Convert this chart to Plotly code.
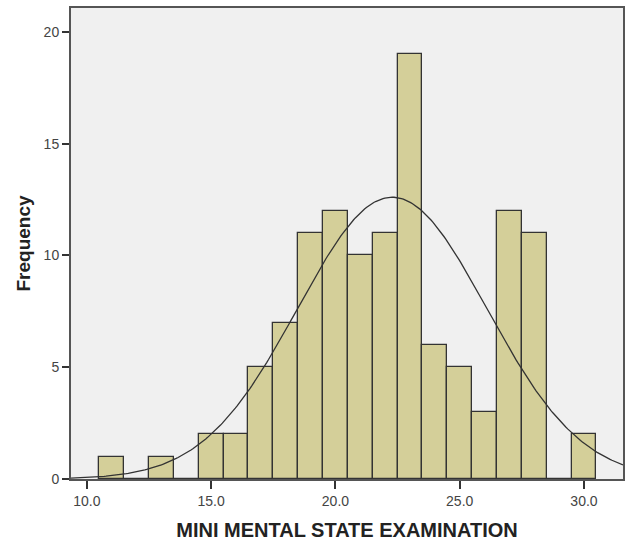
import numpy as np
import plotly.graph_objects as go

scores = [11, 12, 13, 14, 15, 16, 17, 18, 19, 20, 21, 22, 23, 24, 25, 26, 27, 28, 29, 30]
counts = [1, 0, 1, 0, 2, 2, 5, 7, 11, 12, 10, 11, 19, 6, 5, 3, 12, 11, 0, 2]
x_ticks = [10, 15, 20, 25, 30]
y_ticks = [0, 5, 10, 15, 20]

x_arr = np.array(scores, dtype=float)
c_arr = np.array(counts, dtype=float)
n = c_arr.sum()
mean = (x_arr * c_arr).sum() / n
sd = np.sqrt((c_arr * (x_arr - mean) ** 2).sum() / (n - 1))
xs = np.linspace(9.36, 31.57, 300)
ys = n * 1.0 / (sd * np.sqrt(2 * np.pi)) * np.exp(-0.5 * ((xs - mean) / sd) ** 2)

fig = go.Figure()
fig.add_trace(go.Bar(
    x=scores, y=counts, width=1.0,
    marker=dict(color="#d4cf99", line=dict(color="#333333", width=1.3)),
    hoverinfo="x+y", showlegend=False,
))
fig.add_trace(go.Scatter(
    x=xs, y=ys, mode="lines",
    line=dict(color="#333333", width=1.3), showlegend=False, hoverinfo="skip",
))

fig.update_layout(
    width=628, height=542,
    margin=dict(l=71, r=5, t=8, b=63),
    paper_bgcolor="white", plot_bgcolor="#f0f0f0",
    font=dict(family="Arial, Liberation Sans, sans-serif", color="#333333"),
    bargap=0,
    annotations=[dict(
        text="<b>Frequency</b>", textangle=-90, showarrow=False,
        xref="paper", yref="paper", x=0, y=0.5, xanchor="center", yanchor="middle",
        xshift=-48, font=dict(size=19, color="#222222"),
    )],
)
fig.update_xaxes(
    range=[9.36, 31.57], tickvals=x_ticks, ticktext=[f"{v:.1f}" for v in x_ticks],
    ticks="outside", ticklen=8, tickcolor="#333333", tickwidth=1.5,
    showgrid=False, zeroline=False, automargin=False,
    showline=True, mirror=True, linecolor="#555555", linewidth=2,
    tickfont=dict(size=14, color="#444444"),
    title=dict(text="<b>MINI MENTAL STATE EXAMINATION</b>", font=dict(size=20, color="#222222")),
)
fig.update_yaxes(
    range=[0, 21.07], tickvals=y_ticks,
    ticks="outside", ticklen=7, tickcolor="#333333", tickwidth=1.5,
    showgrid=False, zeroline=False, automargin=False,
    showline=True, mirror=True, linecolor="#555555", linewidth=2,
    tickfont=dict(size=14, color="#444444"),
)

fig.write_html("out.html", config={"displayModeBar": False},
               post_script="document.body.style.margin='0';")
